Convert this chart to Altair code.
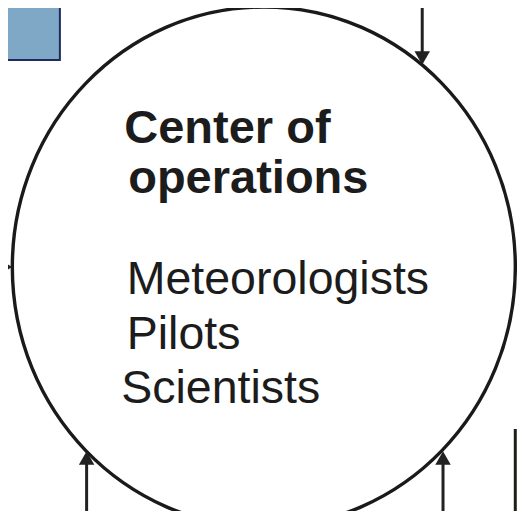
import altair as alt
import pandas as pd

# ---- content -------------------------------------------------------------
title_lines = ["Center of", "operations"]
member_lines = ["Meteorologists", "Pilots", "Scientists"]

# ---- layout (reference-image pixel coordinates) --------------------------
title_x = [126, 130]
title_y = [142, 192]
member_x = [128.5, 128.5, 123]
member_y = [293, 348, 402]

ring_cx = [267]
ring_cy = [266]

box_x = [-5]
box_x2 = [61]
box_y = [-5]
box_y2 = [59]

arrow_x = [427, -5, 88, 448]
arrow_y = [-5, 266, 530, 530]
arrow_x2 = [427, 6, 88, 448]
arrow_y2 = [56, 266, 457, 457]
head_x = [427, 6, 88, 448]
head_y = [57, 266, 457, 457]
head_shape = ["triangle-down", "triangle-right", "triangle-up", "triangle-up"]

edge_x = [521]
edge_y = [428]
edge_y2 = [530]

# plot area fits inside the 8px page margin
W, H = 509, 503
xs = alt.Scale(domain=[8.59, 522.73], range=[0, W])
ys = alt.Scale(domain=[7, 510], range=[0, H])

def X(f):
    return alt.X(f, type="quantitative", scale=xs, axis=None)

def Y(f):
    return alt.Y(f, type="quantitative", scale=ys, axis=None)

box_df = pd.DataFrame({"x": box_x, "x2": box_x2, "y": box_y, "y2": box_y2})
box = alt.Chart(box_df).mark_rect(
    fill="#7ea8c6", stroke="#1d2a5e", strokeWidth=2
).encode(x=X("x"), x2="x2", y=Y("y"), y2="y2")

ring_df = pd.DataFrame({"x": ring_cx, "y": ring_cy})
ellipse_path = "M-1,0A1,1.0338,0,1,0,1,0A1,1.0338,0,1,0,-1,0Z"
ring = alt.Chart(ring_df).mark_point(
    shape=ellipse_path, filled=False, stroke="#1a1a1a", strokeWidth=3.4,
    size=503 ** 2, opacity=1
).encode(x=X("x"), y=Y("y"))

arrows_df = pd.DataFrame({"x": arrow_x, "y": arrow_y, "x2": arrow_x2, "y2": arrow_y2})
arrows = alt.Chart(arrows_df).mark_rule(color="#222222", strokeWidth=3).encode(
    x=X("x"), y=Y("y"), x2="x2", y2="y2"
)

heads_df = pd.DataFrame({"x": head_x, "y": head_y, "shape": head_shape})
heads = alt.Chart(heads_df).mark_point(
    filled=True, color="#222222", size=240, opacity=1, strokeWidth=0
).encode(x=X("x"), y=Y("y"), shape=alt.Shape("shape:N", scale=None))

edge_df = pd.DataFrame({"x": edge_x, "y": edge_y, "y2": edge_y2})
edge = alt.Chart(edge_df).mark_rule(color="#1e1e1a", strokeWidth=3).encode(
    x=X("x"), y=Y("y"), y2="y2"
)

title_df = pd.DataFrame({"t": title_lines, "x": title_x, "y": title_y})
title = alt.Chart(title_df).mark_text(
    align="left", baseline="alphabetic", font="Liberation Sans",
    fontSize=47, fontWeight="bold", color="#1c1c1c"
).encode(x=X("x"), y=Y("y"), text="t:N")

members_df = pd.DataFrame({"t": member_lines, "x": member_x, "y": member_y})
members = alt.Chart(members_df).mark_text(
    align="left", baseline="alphabetic", font="Liberation Sans",
    fontSize=46.5, color="#1c1c1c"
).encode(x=X("x"), y=Y("y"), text="t:N")

chart = alt.layer(box, edge, arrows, ring, heads, title, members).properties(
    width=W, height=H, padding=0, background="white",
    autosize=alt.AutoSizeParams(type="none")
).configure_view(strokeWidth=0)

chart.save("out.html", embed_options={"renderer": "svg", "actions": False})
